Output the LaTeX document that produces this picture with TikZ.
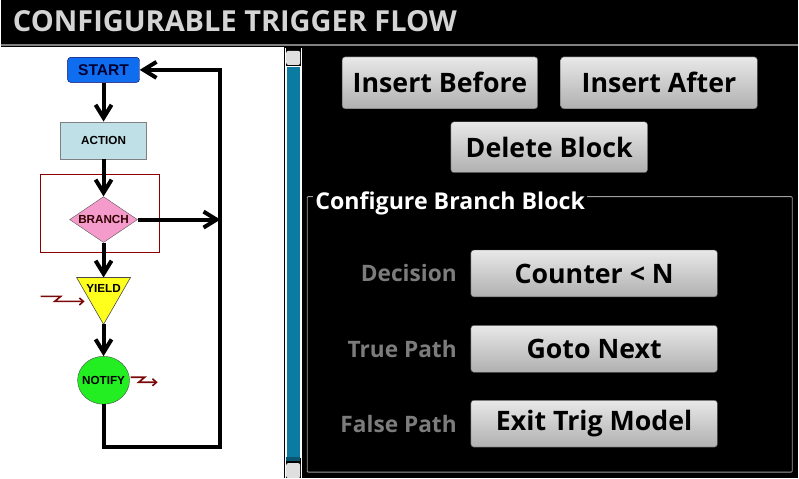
\documentclass[tikz,border=0pt]{standalone}
\usepackage{fontspec}
\setmainfont{Open Sans}
\newfontfamily\flowfont{Liberation Sans}
\usetikzlibrary{arrows.meta,shapes.geometric}
\definecolor{titlegray}{HTML}{D4D4D4}
\definecolor{lblgray}{HTML}{7C7C7C}
\definecolor{startblue}{HTML}{0F6EF0}
\definecolor{actionblue}{HTML}{BFE0E6}
\definecolor{branchpink}{HTML}{F49BCB}
\definecolor{yieldyellow}{HTML}{FFFF1E}
\definecolor{notifygreen}{HTML}{22EE22}
\definecolor{sigred}{HTML}{7A0A0A}
\definecolor{scrollblue}{HTML}{0B7BA2}
\tikzset{
  flow/.style={line width=4pt, line join=miter},
  flowtxt/.style={font=\flowfont\bfseries\fontsize{11.7}{13}\selectfont, inner sep=0pt},
  squig/.style={sigred, line width=1.6pt, -{Straight Barb[length=4pt,width=7pt]}},
  btn/.style={draw=gray!60!black, rounded corners=3pt, top color=gray!18, bottom color=gray!62,
              text=black, font=\bfseries\fontsize{26.8}{28}\selectfont, inner sep=0pt},
  lbl/.style={anchor=east, text=lblgray, font=\bfseries\fontsize{22.7}{24}\selectfont, inner sep=0pt},
}
\begin{document}
\begin{tikzpicture}[x=1pt, y=-1pt, >={Straight Barb[length=13pt,width=16pt]}]

% Sfondo e barra del titolo
\fill[black] (0,0) rectangle (799,479);
\node[anchor=west, text=titlegray, font=\bfseries\fontsize{29}{31}\selectfont, inner sep=0pt] (title) at (12,21) {CONFIGURABLE TRIGGER FLOW};
\draw[gray, line width=1.5pt] (0,45) -- (799,45);

% Pannello bianco e barra di scorrimento
\fill[white] (0,47) rectangle (284,479);
\draw[white, line width=0.8pt] (285,48) -- (285,479) (301,48) -- (301,479);
\fill[gray!25, rounded corners=2pt] (286,51) rectangle (300,65);
\filldraw[fill=scrollblue, draw=white, line width=0.8pt] (286,67) rectangle (300,458);
\fill[scrollblue!70!black] (286,458) rectangle (300,462);
\fill[gray!25, rounded corners=2pt] (286,464) rectangle (300,479);

% Diagramma di flusso
\node[draw=red!55!black, line width=0.8pt, minimum width=119pt, minimum height=78pt] (selbox) at (99.5,214) {};
\node[flowtxt, draw=blue!40!black, fill=startblue, rounded corners=3pt, minimum width=72pt, minimum height=25pt,
      font=\flowfont\bfseries\fontsize{15.6}{17}\selectfont, text=blue!20!black] (start) at (103,70) {START};
\node[flowtxt, draw=gray, fill=actionblue, minimum width=86pt, minimum height=37pt] (action) at (103,140.5) {ACTION};
\node[flowtxt, diamond, draw=gray!70!black, fill=branchpink, aspect=1.48, minimum width=68pt, minimum height=46pt,
      text=black!80!red] (branch) at (103,220) {BRANCH};
\coordinate (yieldtop) at (103,278);
\coordinate (yieldtip) at (103,325);
\filldraw[fill=yieldyellow, draw=gray!60!black, line width=0.6pt] (76,278) -- (130,278) -- (yieldtip) -- cycle;
\node[flowtxt] (yield) at (103,289) {YIELD};
\node[ellipse, draw=gray!60!black, fill=notifygreen, minimum width=52pt, minimum height=48pt, inner sep=0pt] (notify) at (103,381) {};
\node[flowtxt] (notifylbl) at (notify) {NOTIFY};

\coordinate (branchhit) at (220,220);
\coordinate (loopbr) at (220,448);
\coordinate (looptr) at (220,70);

\draw[flow, ->] (start) -- (action);
\draw[flow, ->] (action) -- (branch);
\draw[flow, ->] (branch) -- (yieldtop);
\draw[flow, ->] (yieldtip) -- (notify);
\draw[flow, ->] (branch) -- (branchhit);
\draw[flow, ->] (notify.south) |- (loopbr) -- (looptr) -- (start.east);

% Segnali
\coordinate (sigin) at (40,297);
\coordinate (sigout) at (notify.east);
\draw[squig] (sigin) -- ++(20,0) -- ++(-6,5) -- (84,302);
\draw[squig] (sigout) ++(1,-3) -- ++(14,0) -- ++(-6,5) -- ++(19,0);

% Pulsanti in alto
\node[btn, minimum width=196pt, minimum height=52pt] (insbefore) at (440,83) {Insert Before};
\node[btn, minimum width=197pt, minimum height=52pt] (insafter) at (659.5,83) {Insert After};
\node[btn, minimum width=197pt, minimum height=51pt] (delblock) at (549.5,147.5) {Delete Block};

% Riquadro di configurazione
\draw[gray!75, line width=0.8pt, rounded corners=1pt] (307,197) rectangle (793,473);
\node[anchor=west, fill=black, text=white, font=\bfseries\fontsize{23.2}{25}\selectfont, inner sep=2pt] (cfgtitle) at (313,204) {Configure Branch Block};

\foreach \nm/\txt/\val/\yy in {dec/Decision/{Counter < N}/274, tru/True Path/Goto Next/349.5, fal/False Path/Exit Trig Model/424.5}{
  \node[lbl] (\nm lbl) at (457,\yy) {\txt};
  \node[btn, minimum width=247pt, minimum height=47pt] (\nm btn) at (594.5,\yy) {\val};
}

\end{tikzpicture}
\end{document}
